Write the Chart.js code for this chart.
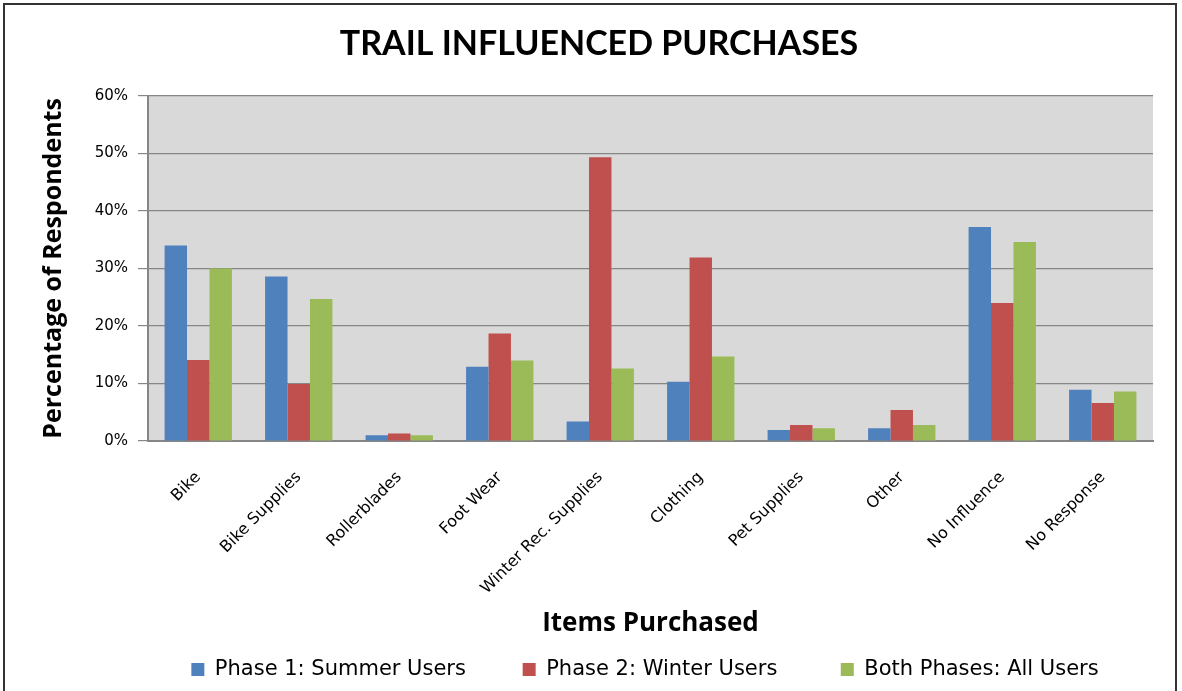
<!DOCTYPE html>
<html>
<head>
<meta charset="utf-8">
<script src="https://cdn.jsdelivr.net/npm/chart.js@4/dist/chart.umd.min.js"></script>
<style>
  html, body { margin: 0; padding: 0; background: #fff; }
  #wrap { position: absolute; left: 3px; top: 3px; width: 1174px; height: 690px; border: 2px solid #333; border-bottom: none; box-sizing: border-box; }
  #wrap canvas { display: block; }
</style>
</head>
<body>
<div id="wrap"><canvas id="myChart"></canvas></div>
<script>
// ---------- data
const categories = ["Bike", "Bike Supplies", "Rollerblades", "Foot Wear", "Winter Rec. Supplies",
  "Clothing", "Pet Supplies", "Other", "No Influence", "No Response"];
const seriesNames = ["Phase 1: Summer Users", "Phase 2: Winter Users", "Both Phases: All Users"];
const summerUsers = [34.0, 28.6, 1.0, 12.9, 3.4, 10.3, 1.9, 2.2, 37.2, 8.9];
const winterUsers = [14.1, 9.9, 1.3, 18.7, 49.3, 31.9, 2.8, 5.4, 24.0, 6.6];
const allUsers = [30.0, 24.7, 1.0, 14.0, 12.6, 14.7, 2.2, 2.8, 34.6, 8.6];
const yTicks = [0, 10, 20, 30, 40, 50, 60];
const colors = ["#4f81bd", "#c0504d", "#9bbb59"];

// grey plot background, and nudge title / legend sideways like the original
const plotBg = {
  id: "plotBg",
  beforeDraw(chart) {
    const a = chart.chartArea;
    const c = chart.ctx;
    c.save();
    c.fillStyle = "#d9d9d9";
    c.fillRect(a.left, a.top, a.right - a.left, a.bottom - a.top);
    c.restore();
  },
  afterLayout(chart) {
    if (chart.legend) chart.legend.left += 132;
    if (chart.titleBlock) chart.titleBlock.left += 40;
  }
};

const titleFont = "Lato, 'Open Sans', sans-serif";
const boldFont = "'Open Sans', Lato, sans-serif";
const tickFont = "'DejaVu Sans', sans-serif";
const gaps = ["       ", "        ", ""];

const ctx = document.getElementById("myChart");
new Chart(ctx, {
  type: "bar",
  data: {
    labels: categories,
    datasets: [summerUsers, winterUsers, allUsers].map((d, i) => ({
      label: seriesNames[i],
      data: d,
      backgroundColor: colors[i],
      borderWidth: 0,
      barPercentage: 1.0,
      categoryPercentage: 0.67
    }))
  },
  options: {
    responsive: true,
    maintainAspectRatio: false,
    animation: false,
    layout: { padding: { left: 0, right: 22, top: 0, bottom: 3 } },
    plugins: {
      title: {
        display: true,
        text: "TRAIL INFLUENCED PURCHASES",
        color: "#000",
        font: { family: titleFont, size: 34, weight: "bold" },
        padding: { top: 19, bottom: 31 }
      },
      legend: {
        position: "bottom",
        labels: {
          color: "#000",
          font: { family: tickFont, size: 21 },
          boxWidth: 13,
          boxHeight: 13,
          padding: 10,
          generateLabels(chart) {
            const items = Chart.defaults.plugins.legend.labels.generateLabels(chart);
            items.forEach((it, i) => { it.text = it.text + gaps[i]; });
            return items;
          }
        }
      },
      tooltip: { enabled: false }
    },
    scales: {
      x: {
        afterFit(axis) { axis.height = 208; },
        grid: { display: false, drawTicks: false },
        border: { color: "#868686", width: 2 },
        ticks: {
          color: "#000",
          font: { family: tickFont, size: 16 },
          maxRotation: 45,
          minRotation: 45,
          autoSkip: false,
          padding: 27
        },
        title: {
          display: true,
          text: "Items Purchased",
          color: "#000",
          font: { family: boldFont, size: 26, weight: "bold" },
          padding: { top: 0, bottom: 10 }
        }
      },
      y: {
        min: 0,
        max: 60,
        afterFit(axis) { axis.width = 143; },
        afterBuildTicks(axis) { axis.ticks = yTicks.map(v => ({ value: v })); },
        grid: { color: "#868686", lineWidth: 1.2, tickLength: 10 },
        border: { color: "#868686", width: 2 },
        ticks: {
          color: "#000",
          font: { family: tickFont, size: 15 },
          padding: 10,
          callback: v => v + "%"
        },
        title: {
          display: true,
          text: "Percentage of Respondents",
          color: "#000",
          font: { family: boldFont, size: 25, weight: "bold" },
          padding: { top: 34, bottom: 0 }
        }
      }
    }
  },
  plugins: [plotBg]
});
</script>
</body>
</html>
